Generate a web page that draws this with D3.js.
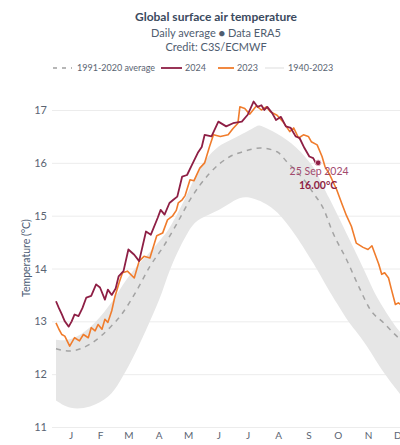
<!DOCTYPE html>
<html>
<head>
<meta charset="utf-8">
<script src="https://cdn.jsdelivr.net/npm/d3@7"></script>
<style>
  html, body { margin: 0; padding: 0; background: #fff; }
  svg { display: block; font-family: Lato, "Open Sans", sans-serif; }
</style>
</head>
<body>
<svg id="chart" width="400" height="445"></svg>
<script>
// ---------- data (day of year -> °C) ----------
const months = ["J","F","M","A","M","J","J","A","S","O","N","D"];
const monthMidDays = [16, 46, 75, 106, 136, 167, 197, 228, 259, 289, 320, 350];
const yTicks = [11, 12, 13, 14, 15, 16, 17];

const days2024 = [1,4,7,10,14,17,20,24,28,32,37,42,46,51,54,58,62,65,70,75,81,86,93,98,105,108,112,117,121,125,130,135,140,146,150,153,160,167,175,182,191,197,203,207,211,214,217,222,226,231,236,241,246,250,255,260,264,267,269];
const temp2024 = [13.38,13.25,13.13,13.0,12.9,13.0,13.13,13.1,13.25,13.45,13.48,13.7,13.64,13.41,13.6,13.5,13.62,13.85,13.95,14.36,14.26,14.14,14.7,14.64,14.96,15.11,15.02,15.24,15.3,15.36,15.74,15.77,15.96,16.19,16.3,16.53,16.5,16.78,16.69,16.75,16.78,16.91,17.16,17.06,17.09,17.0,17.06,16.94,16.81,16.87,16.69,16.66,16.5,16.47,16.28,16.12,16.09,15.98,16.0];

const days2023 = [1,4,7,10,15,20,25,29,34,37,41,44,48,51,54,58,61,66,69,74,81,86,91,97,104,110,115,120,124,126,130,133,138,142,148,153,158,162,169,177,182,187,189,194,199,206,211,216,220,227,233,240,244,249,254,259,262,268,273,276,281,288,293,298,303,308,315,320,324,326,331,334,337,341,344,348,351,355,359,363,366];
const temp2023 = [12.97,12.85,12.75,12.72,12.53,12.69,12.63,12.75,12.69,12.88,12.82,12.94,12.85,13.04,12.98,13.2,13.45,13.76,13.92,13.95,13.82,14.14,14.23,14.2,14.62,14.67,14.92,14.99,15.1,15.24,15.3,15.38,15.68,15.66,15.9,16.0,16.31,16.53,16.5,16.53,16.65,16.75,17.06,17.03,16.92,17.08,17.0,17.06,16.97,16.9,16.78,16.59,16.66,16.47,16.53,16.5,16.4,16.34,16.12,15.93,15.77,15.49,15.24,15.0,14.8,14.48,14.4,14.36,14.43,14.33,14.08,13.89,13.92,13.82,13.6,13.32,13.35,13.3,13.4,13.35,13.45];

const daysAvg = [1,15,36,56,68,84,97,111,124,138,158,179,192,210,227,237,257,264,274,284,298,312,322,336,353,366];
const tempAvg = [12.48,12.44,12.57,12.88,13.13,13.6,14.04,14.42,14.83,15.3,15.8,16.12,16.21,16.28,16.21,16.02,15.62,15.43,15.15,14.68,14.17,13.6,13.23,12.97,12.66,12.5];

// 1940-2023 envelope (min / max of the grey bundle)
const daysRange = [1,15,36,56,66,80,97,110,117,138,148,165,176,189,199,206,210,227,247,264,268,281,288,301,309,322,329,343,349,353,366];
const rangeLow  = [11.5,11.33,11.36,11.56,11.85,12.3,13.0,13.55,14.0,14.8,14.95,15.08,15.2,15.36,15.35,15.3,15.28,15.11,14.61,14.1,13.98,13.55,13.35,12.95,12.79,12.45,12.22,11.85,11.72,11.6,11.45];
const rangeHigh = [12.65,12.62,12.85,13.3,13.6,13.98,14.3,14.6,14.74,15.5,15.95,16.3,16.4,16.52,16.62,16.7,16.72,16.56,16.31,15.93,15.8,15.3,15.05,14.55,14.25,13.73,13.45,13.04,12.88,12.79,12.6];

// ---------- drawing ----------
const svg = d3.select("#chart");
const x = d3.scaleLinear().domain([1, 366]).range([56, 413]);
const y = d3.scaleLinear().domain([11, 17]).range([427, 110]);

const textDark = "#3b4a5e";
const textMid = "#4f5d70";

// title
svg.append("text").attr("x", 216).attr("y", 21).attr("text-anchor", "middle")
  .attr("font-size", 12).attr("font-weight", 700).attr("fill", textDark)
  .text("Global surface air temperature");
svg.append("text").attr("x", 216).attr("y", 37).attr("text-anchor", "middle")
  .attr("font-size", 11).attr("fill", textMid)
  .text("Daily average \u25CF Data ERA5");
svg.append("text").attr("x", 216).attr("y", 51).attr("text-anchor", "middle")
  .attr("font-size", 11).attr("fill", textMid)
  .text("Credit: C3S/ECMWF");

// legend
const legY = 68;
const legend = svg.append("g").attr("font-size", 9).attr("fill", "#5a6472");
legend.append("line").attr("x1", 53).attr("x2", 72).attr("y1", legY).attr("y2", legY)
  .attr("stroke", "#a0a0a0").attr("stroke-width", 1.5).attr("stroke-dasharray", "4,5");
legend.append("text").attr("x", 77).attr("y", legY + 3).text("1991-2020 average");
legend.append("line").attr("x1", 161).attr("x2", 182).attr("y1", legY).attr("y2", legY)
  .attr("stroke", "#8e1f45").attr("stroke-width", 1.8);
legend.append("text").attr("x", 185).attr("y", legY + 3).text("2024");
legend.append("line").attr("x1", 218).attr("x2", 234).attr("y1", legY).attr("y2", legY)
  .attr("stroke", "#f07c2c").attr("stroke-width", 1.8);
legend.append("text").attr("x", 237).attr("y", legY + 3).text("2023");
legend.append("line").attr("x1", 265).attr("x2", 284).attr("y1", legY).attr("y2", legY)
  .attr("stroke", "#e8e8e8").attr("stroke-width", 1.5);
legend.append("text").attr("x", 288).attr("y", legY + 3).text("1940-2023");

// y axis + gridlines
const yAxis = svg.append("g").attr("transform", "translate(400,0)")
  .call(d3.axisLeft(y).tickValues(yTicks).tickSize(348).tickPadding(5).tickFormat(d3.format("d")));
yAxis.select(".domain").remove();
yAxis.selectAll(".tick line").attr("stroke", "#ececec").attr("stroke-width", 1);
yAxis.selectAll(".tick text").attr("font-size", 11).attr("fill", "#5a6472")
  .attr("font-family", "Lato, sans-serif");

// x axis month labels
const xAxis = svg.append("g").attr("transform", "translate(0,427)")
  .call(d3.axisBottom(x).tickValues(monthMidDays).tickSize(0).tickPadding(5)
    .tickFormat((d, i) => months[i]));
xAxis.select(".domain").remove();
xAxis.selectAll(".tick text").attr("font-size", 10).attr("fill", "#5a6472")
  .attr("font-family", "Lato, sans-serif");

// axis title
svg.append("text").attr("transform", "translate(30,258) rotate(-90)")
  .attr("text-anchor", "middle").attr("font-size", 10.5).attr("fill", "#4b5b73")
  .text("Temperature (\u00B0C)");

// grey bundle 1940-2023
const area = d3.area().curve(d3.curveBasis)
  .x((d, i) => x(daysRange[i])).y0((d, i) => y(rangeLow[i])).y1((d, i) => y(rangeHigh[i]));
svg.append("path").datum(daysRange).attr("d", area).attr("fill", "#e6e6e6");

// 1991-2020 average
const lineAvg = d3.line().curve(d3.curveMonotoneX)
  .x((d, i) => x(daysAvg[i])).y((d, i) => y(tempAvg[i]));
svg.append("path").datum(daysAvg).attr("d", lineAvg).attr("fill", "none")
  .attr("stroke", "#a3a3a3").attr("stroke-width", 1.5).attr("stroke-dasharray", "5,5");

// 2023
const line23 = d3.line().x((d, i) => x(days2023[i])).y((d, i) => y(temp2023[i]));
svg.append("path").datum(days2023).attr("d", line23).attr("fill", "none")
  .attr("stroke", "#f07c2c").attr("stroke-width", 1.6).attr("stroke-linejoin", "round");

// 2024
const line24 = d3.line().x((d, i) => x(days2024[i])).y((d, i) => y(temp2024[i]));
svg.append("path").datum(days2024).attr("d", line24).attr("fill", "none")
  .attr("stroke", "#8e1f45").attr("stroke-width", 1.8).attr("stroke-linejoin", "round");

// annotation for last 2024 point
const lastI = days2024.length - 1;
const lx = x(days2024[lastI]), ly = y(temp2024[lastI]);
svg.append("circle").attr("cx", lx).attr("cy", ly).attr("r", 2.8)
  .attr("fill", "#8e1f45").attr("stroke", "#e8b8c8").attr("stroke-width", 1);
svg.append("text").attr("x", lx + 1).attr("y", ly + 12).attr("text-anchor", "middle")
  .attr("font-size", 10.5).attr("fill", "#a24a6e").text("25 Sep 2024");
svg.append("text").attr("x", lx).attr("y", ly + 26).attr("text-anchor", "middle")
  .attr("font-size", 10.5).attr("font-weight", 700).attr("fill", "#8e1f45")
  .text(temp2024[lastI].toFixed(2) + "\u00B0C");
</script>
</body>
</html>
